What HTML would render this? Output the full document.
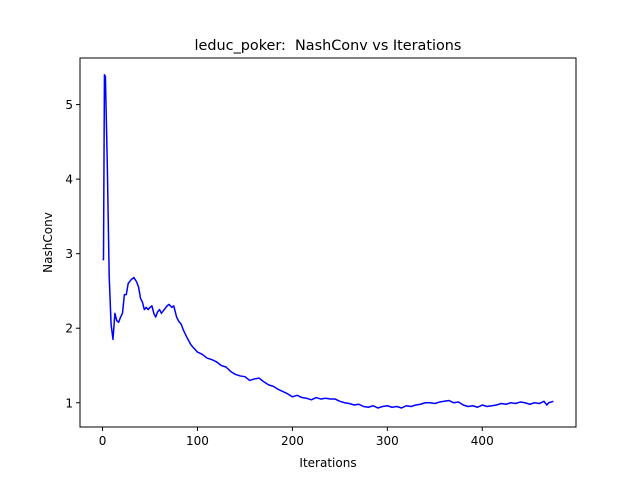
<!DOCTYPE html>
<html><head><meta charset="utf-8"><style>
body{margin:0;background:#fff;}
svg{display:block;font-family:"DejaVu Sans","Liberation Sans",sans-serif;}
</style></head><body>
<svg id="chart" width="640" height="480">
<rect width="640" height="480" fill="#fff"/>
<text x="328" y="50" font-size="14.4" text-anchor="middle">leduc_poker:&#160; NashConv vs Iterations</text>
<g id="plot"></g>
<rect x="80" y="58" width="496" height="369" fill="none" stroke="#000" stroke-width="1"/>
<text x="328" y="467" font-size="12" text-anchor="middle">Iterations</text>
<text transform="translate(52,242.5) rotate(-90)" font-size="12" text-anchor="middle">NashConv</text>
</svg>
<script>
const iters=[0,1,2,3,5,7,9,11,13,15,17,19,21,23,25,27,30,33,36,38,40,42,44,46,48,50,52,54,56,58,60,62,65,68,70,73,75,78,80,83,85,88,90,93,95,100,105,110,115,120,125,130,135,140,145,150,155,160,165,170,175,180,185,190,195,200,205,210,215,220,225,230,235,240,245,250,255,260,265,270,275,280,285,290,295,300,305,310,315,320,325,330,335,340,345,350,355,360,365,370,375,380,385,390,395,400,405,410,415,420,425,430,435,440,445,450,455,460,465,468,470,475];
const nashconv=[2.92,2.92,5.4,5.38,4.2,2.7,2.05,1.85,2.2,2.1,2.08,2.15,2.2,2.45,2.45,2.6,2.65,2.68,2.62,2.55,2.4,2.35,2.25,2.28,2.25,2.28,2.3,2.2,2.15,2.22,2.25,2.2,2.25,2.3,2.32,2.28,2.3,2.15,2.1,2.05,1.98,1.9,1.85,1.78,1.75,1.68,1.65,1.6,1.58,1.55,1.5,1.48,1.42,1.38,1.36,1.35,1.3,1.32,1.33,1.28,1.24,1.22,1.18,1.15,1.12,1.08,1.1,1.07,1.06,1.04,1.07,1.05,1.06,1.05,1.05,1.02,1.0,0.99,0.97,0.98,0.95,0.94,0.96,0.93,0.95,0.96,0.94,0.95,0.93,0.96,0.95,0.97,0.98,1.0,1.0,0.99,1.01,1.02,1.03,1.0,1.01,0.97,0.95,0.96,0.94,0.97,0.95,0.96,0.97,0.99,0.98,1.0,0.99,1.01,1.0,0.98,1.0,0.99,1.02,0.97,1.0,1.02];
const xTicks=[0,100,200,300,400];
const yTicks=[1,2,3,4,5];
const NS='http://www.w3.org/2000/svg';
const L=80,R=576,T=58,B=427;
const xmin=-23.75,xmax=498.75,ymin=0.675,ymax=5.625;
function xs(v){return L+(v-xmin)/(xmax-xmin)*(R-L);}
function ys(v){return B-(v-ymin)/(ymax-ymin)*(B-T);}
const svg=document.getElementById('chart');
const plot=document.getElementById('plot');
function mk(t,a){const e=document.createElementNS(NS,t);for(const k in a)e.setAttribute(k,a[k]);return e;}
xTicks.forEach(v=>{
  const g=mk('g',{});
  
  
  g.appendChild(mk('line',{x1:xs(v),x2:xs(v),y1:B,y2:B+4,stroke:'#000'}));
  const t=mk('text',{x:xs(v),y:B+18,'font-size':12,'text-anchor':'middle'});t.textContent=v;g.appendChild(t);
  svg.appendChild(g);
});
yTicks.forEach(v=>{
  const g=mk('g',{});
  
  
  g.appendChild(mk('line',{x1:L-4,x2:L,y1:ys(v),y2:ys(v),stroke:'#000'}));
  const t=mk('text',{x:L-7,y:ys(v)+4.5,'font-size':12,'text-anchor':'end'});t.textContent=v;g.appendChild(t);
  svg.appendChild(g);
});
const d=iters.map((v,i)=>(i?'L':'M')+xs(v).toFixed(2)+','+ys(nashconv[i]).toFixed(2)).join(' ');
const p=mk('path',{d:d,fill:'none',stroke:'#0000ff','stroke-width':1.5,'stroke-linejoin':'round'});


plot.appendChild(p);
</script>
</body></html>
